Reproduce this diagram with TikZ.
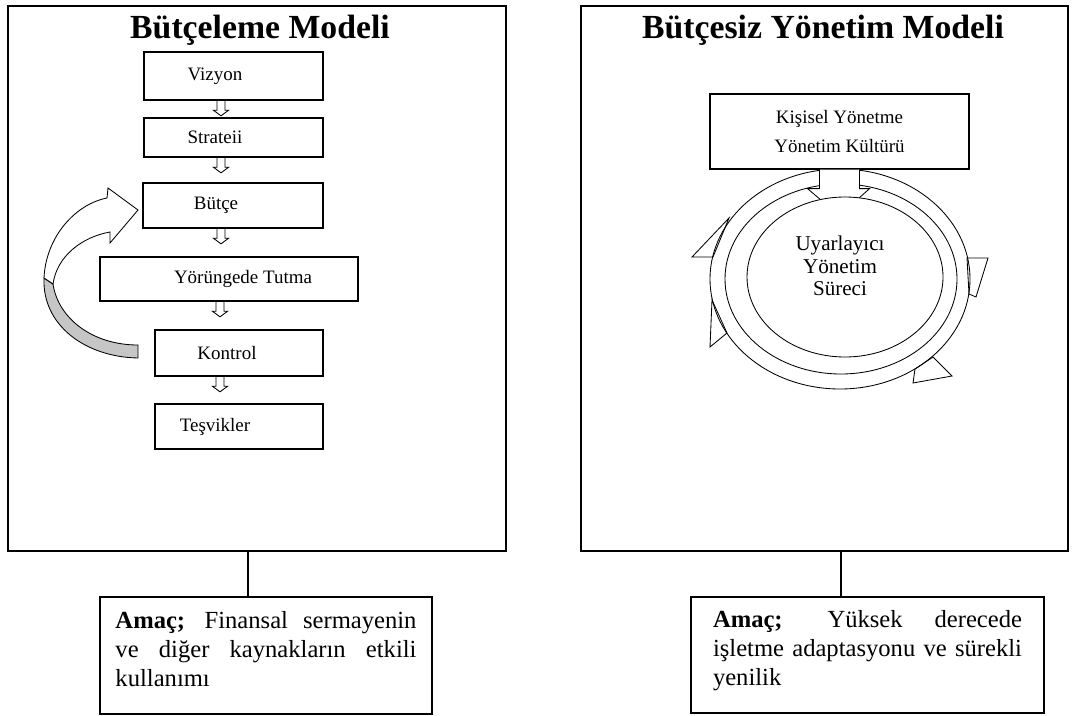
\documentclass[tikz,border=0pt]{standalone}
\usepackage{fontspec}
\setmainfont{Liberation Serif}
\usetikzlibrary{calc,shapes.geometric}

\begin{document}
\begin{tikzpicture}[x=0.25mm, y=-0.25mm, line width=0.9pt,
    panel/.style = {draw, inner sep=0pt, minimum height=136.25mm},
    ttl/.style = {anchor=base, font=\fontsize{24}{26}\selectfont\bfseries},
    box/.style = {draw, fill=white, inner sep=0pt, font=\fontsize{13.5}{20.5}\selectfont},
    goal/.style = {draw, inner sep=0pt, align=justify, font=\fontsize{17.5}{20.6}\selectfont},
    hol/.style = {line width=0.6pt, to path={let \p1=(\tikztostart) in
        (\x1-1mm,\y1) -- (\x1-1mm,\y1-2.4mm) -- (\x1-1.9mm,\y1-2.4mm) -- (\x1,\y1-3.8mm)
        -- (\x1+1.9mm,\y1-2.4mm) -- (\x1+1mm,\y1-2.4mm) -- (\x1+1mm,\y1)}},
    big/.style = {fill=white, line width=0.6pt, to path={let \p1=(\tikztostart) in
        (\x1-5mm,\y1) -- (\x1-5mm,\y1-4.75mm) -- (\x1-8mm,\y1-4.75mm) -- (\x1,\y1-11.5mm)
        -- (\x1+7.5mm,\y1-4.75mm) -- (\x1+5mm,\y1-4.75mm) -- (\x1+5mm,\y1)}},
    tri/.style = {fill=white, line width=0.6pt}]
    \useasboundingbox (0,0) rectangle (1076,715);

    \node[panel, minimum width=124.5mm] (bm) at (257,278.5) {};
    \node[panel, minimum width=121.75mm] (bym) at (824.5,278.5) {};
    \node[ttl] (bmt) at (260,39) {Bütçeleme Modeli};
    \node[ttl] (bymt) at (823,39) {Bütçesiz Yönetim Modeli};

    % butceleme modeli
    \node[box, minimum width=44.75mm, minimum height=12mm] (viz) at (233.5,76) {\hspace*{-9.25mm}Vizyon};
    \node[box, minimum width=44.75mm, minimum height=9.75mm] (str) at (233.5,137.5) {\hspace*{-9.25mm}Strateii};
    \node[box, minimum width=45mm, minimum height=11.25mm] (btc) at (233,205.5) {\hspace*{-8.5mm}Bütçe};
    \node[box, minimum width=64.5mm, minimum height=11mm] (yor) at (229,279) {\hspace*{7mm}Yörüngede Tutma};
    \node[box, minimum width=42mm, minimum height=11.5mm] (kon) at (239,353) {\hspace*{-6mm}Kontrol};
    \node[box, minimum width=42mm, minimum height=11.25mm] (tes) at (239,426.5) {\hspace*{-12mm}Teşvikler};

    \draw[hol] (viz.south -| 221,0) to (str.north -| 221,0);
    \draw[hol] (str.south -| 221,0) to (btc.north -| 221,0);
    \draw[hol] (btc.south -| 221,0) to (yor.north -| 221,0);
    \draw[hol] (yor.south -| 220,0) to (kon.north -| 220,0);
    \draw[hol] (kon.south -| 220,0) to (tes.north -| 220,0);

    \filldraw[fill=gray!45, line width=0.6pt] (138,358) .. controls (85,357) and (42,325) .. (44,278)
        -- (53,284) .. controls (58,318) and (92,345) .. (138,345) -- cycle;
    \filldraw[fill=white, line width=0.6pt] (44,278) .. controls (46,236) and (76,204) .. (107,198)
        -- (108,188) -- (138,210) -- (110,243) -- (110,232)
        .. controls (82,237) and (57,256) .. (53,284) -- cycle;

    % butcesiz yonetim modeli
    \node[box, align=center, minimum width=64.75mm, minimum height=18.75mm] (kys) at (839.5,131.5)
        {Kişisel Yönetme\\Yönetim Kültürü};
    \coordinate (mid) at (840,279);
    \filldraw[tri] (692,257) -- (729,218) -- (713,257) -- cycle;
    \filldraw[tri] (967,258) -- (988,258) -- (976,297) -- (969,294) -- cycle;
    \filldraw[tri] (712,300) -- (710,347) -- (727,333) -- cycle;
    \filldraw[tri] (933,357) -- (952,376) -- (913,383) -- (915,369) -- cycle;
    \draw[line width=0.6pt] (mid) ellipse [x radius=32.5mm, y radius=27.5mm];
    \draw[line width=0.6pt] (841,279) ellipse [x radius=29mm, y radius=23.75mm];
    \draw[big] (kys.south) to (mid);
    \node[ellipse, draw, fill=white, line width=0.6pt, minimum width=49mm, minimum height=40mm] (ues) at (845,277) {};
    \node[align=center, font=\fontsize{15}{16}\selectfont] (urs) at (840,266) {Uyarlayıcı\\Yönetim\\Süreci};

    % amac
    \node[goal, minimum width=83mm, minimum height=29.25mm, text width=75.25mm] (bmg) at (266,655.5)
        {\textbf{Amaç;} Finansal sermayenin\linebreak ve diğer kaynakların etkili\linebreak kullanımı\rule[-3.5mm]{0pt}{3.5mm}};
    \node[goal, minimum width=88.25mm, minimum height=29mm, text width=77.25mm] (bymg) at (867.5,655)
        {\textbf{Amaç;} Yüksek derecede\linebreak işletme adaptasyonu ve sürekli\linebreak yenilik\rule[-3.5mm]{0pt}{3.5mm}};
    \draw (bm.south -| 248,0) -- (bmg.north -| 248,0);
    \draw (bym.south -| 841,0) -- (bymg.north -| 841,0);
\end{tikzpicture}
\end{document}
